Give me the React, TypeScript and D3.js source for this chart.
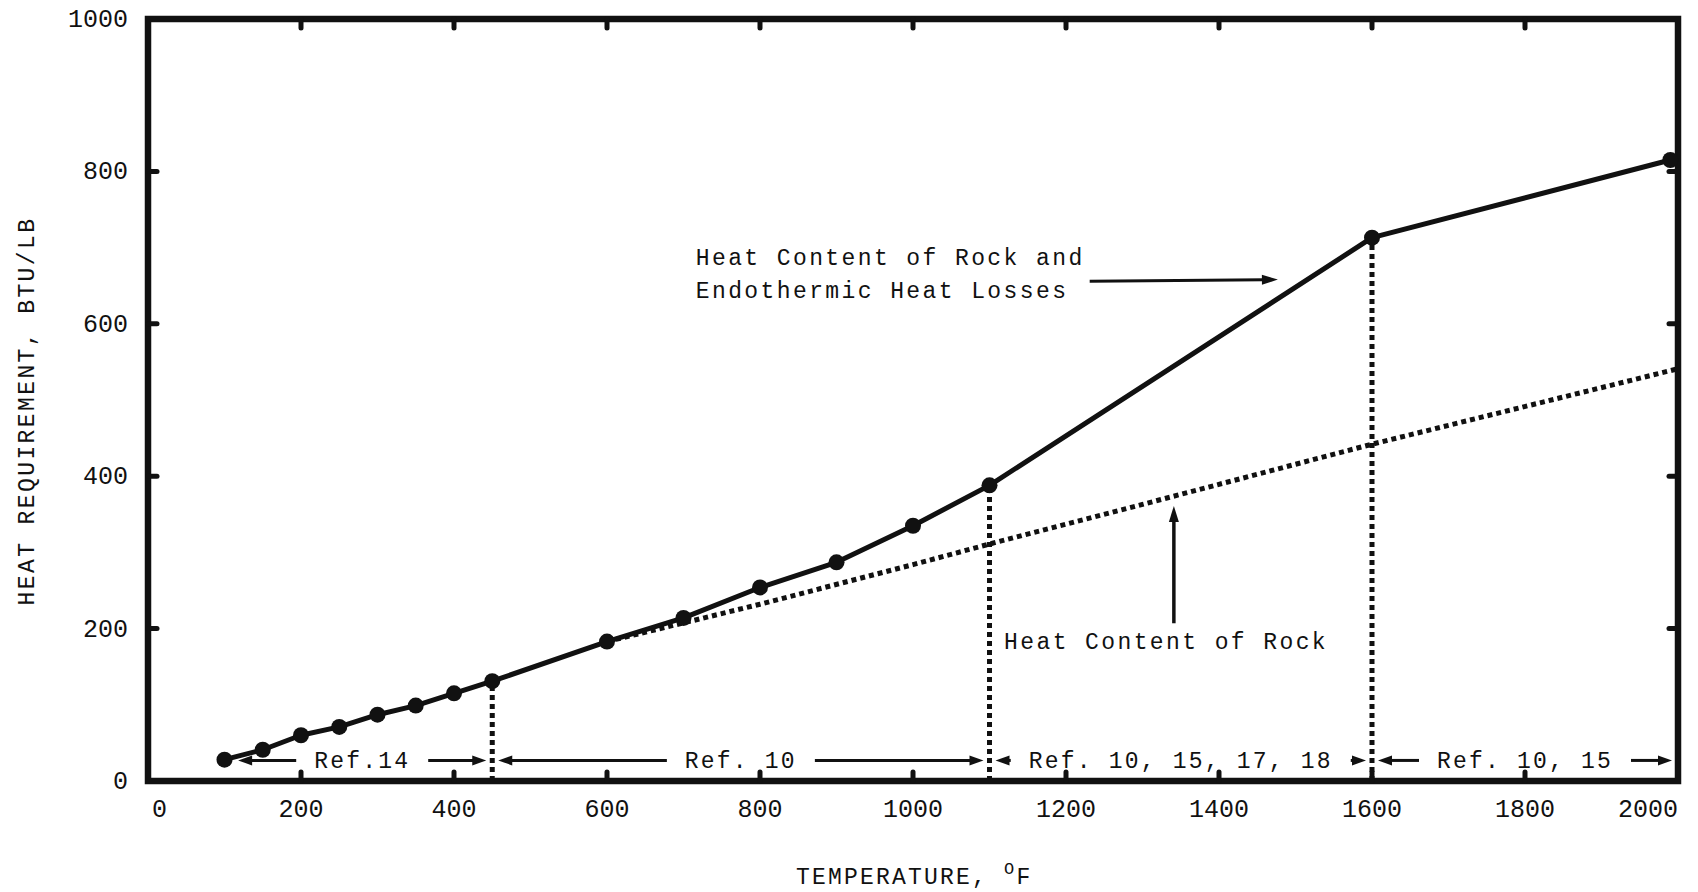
import React from 'react';
import * as d3 from 'd3';

// ---- data ----
const totalTemps = [100, 150, 200, 250, 300, 350, 400, 450, 600, 700, 800, 900, 1000, 1100, 1600, 1990];
const totalHeat = [28, 41, 60, 71, 87, 99, 115, 131, 183, 214, 254, 287, 335, 388, 713, 815];

const rockTemps = [600, 800, 1000, 1100, 1300, 1600, 2000];
const rockHeat = [183, 232, 284, 311, 363, 442, 541];

const boundaryTemps = [450, 1100, 1600];
const boundaryHeat = [131, 388, 713];

const refLabels = ['Ref.14', 'Ref. 10', 'Ref. 10, 15, 17, 18', 'Ref. 10, 15'];
const refStart = [110, 450, 1100, 1600];
const refEnd = [450, 1100, 1600, 2000];

const xTickValues = [0, 200, 400, 600, 800, 1000, 1200, 1400, 1600, 1800, 2000];
const yTickValues = [0, 200, 400, 600, 800, 1000];

const xTitle = 'TEMPERATURE, ';
const yTitle = 'HEAT REQUIREMENT, BTU/LB';
const upperNote = ['Heat Content of Rock and', 'Endothermic Heat Losses'];
const lowerNote = 'Heat Content of Rock';

const FONT = '"Liberation Mono", "DejaVu Sans Mono", "Courier New", monospace';
const INK = '#111';

const W = 1698;
const H = 892;
const x = d3.scaleLinear().domain([0, 2000]).range([148, 1678]);
const y = d3.scaleLinear().domain([0, 1000]).range([781, 19]);

function Arrow({ x1, y1, x2, y2, w = 3, len = 14, half = 5 }: any) {
  const dx = x2 - x1;
  const dy = y2 - y1;
  const L = Math.hypot(dx, dy);
  const ux = dx / L;
  const uy = dy / L;
  const bx = x2 - ux * len;
  const by = y2 - uy * len;
  const px = -uy * half;
  const py = ux * half;
  return (
    <g>
      <line x1={x1} y1={y1} x2={bx + ux * 2} y2={by + uy * 2} stroke={INK} strokeWidth={w} />
      <polygon points={`${x2},${y2} ${bx + px},${by + py} ${bx - px},${by - py}`} fill={INK} />
    </g>
  );
}

export default function App() {
  const totalPts = totalTemps.map((t, i) => [t, totalHeat[i]] as [number, number]);
  const rockPts = rockTemps.map((t, i) => [t, rockHeat[i]] as [number, number]);
  const line = d3.line<[number, number]>().x((d) => x(d[0])).y((d) => y(d[1]));

  const innerX = xTickValues.filter((v) => v > 0 && v < 2000);
  const innerY = yTickValues.filter((v) => v > 0 && v < 1000);
  const tickLen = 9;

  const refAdvance = 16;
  const refTextY = y(17);
  const refArrowY = y(27);
  const refGap = 24;

  return (
    <svg
      width={W}
      height={H}
      style={{ position: 'absolute', left: 0, top: 0, background: '#fff' }}
      fontFamily={FONT}
    >
      <rect x={0} y={0} width={W} height={H} fill="#fff" />

      {/* frame */}
      <rect
        x={x(0)}
        y={y(1000)}
        width={x(2000) - x(0)}
        height={y(0) - y(1000)}
        fill="none"
        stroke={INK}
        strokeWidth={6.5}
      />

      {/* inward ticks */}
      {innerX.map((v) => (
        <g key={'xt' + v}>
          <line x1={x(v)} x2={x(v)} y1={y(0)} y2={y(0) - tickLen} stroke={INK} strokeWidth={5} strokeLinecap="round" />
          <line x1={x(v)} x2={x(v)} y1={y(1000)} y2={y(1000) + tickLen} stroke={INK} strokeWidth={5} strokeLinecap="round" />
        </g>
      ))}
      {innerY.map((v) => (
        <g key={'yt' + v}>
          <line x1={x(0)} x2={x(0) + tickLen} y1={y(v)} y2={y(v)} stroke={INK} strokeWidth={5} strokeLinecap="round" />
          <line x1={x(2000)} x2={x(2000) - tickLen} y1={y(v)} y2={y(v)} stroke={INK} strokeWidth={5} strokeLinecap="round" />
        </g>
      ))}

      {/* tick labels */}
      {xTickValues.map((v) => (
        <text
          key={'xl' + v}
          x={v === 0 ? x(v) + 4 : x(v)}
          y={817}
          fontSize={25}
          fill={INK}
          textAnchor={v === 0 ? 'start' : v === 2000 ? 'end' : 'middle'}
        >
          {v}
        </text>
      ))}
      {yTickValues.map((v) => (
        <text key={'yl' + v} x={x(0) - 20} y={y(v) + 8} fontSize={25} fill={INK} textAnchor="end">
          {v}
        </text>
      ))}

      {/* axis titles */}
      <text x={796} y={884} fontSize={23} letterSpacing={2.2} fill={INK}>
        {xTitle}
        <tspan fontSize={17} dy={-10}>O</tspan>
        <tspan fontSize={23} dy={10}>F</tspan>
      </text>
      <text
        transform={`translate(34, ${411}) rotate(-90)`}
        fontSize={23}
        letterSpacing={2.4}
        fill={INK}
        textAnchor="middle"
      >
        {yTitle}
      </text>

      {/* boundary dotted verticals */}
      {boundaryTemps.map((t, i) => (
        <line
          key={'b' + t}
          x1={x(t)}
          x2={x(t)}
          y1={y(0)}
          y2={y(boundaryHeat[i])}
          stroke={INK}
          strokeWidth={5}
          strokeDasharray="5 4"
        />
      ))}

      {/* rock heat content (dotted) */}
      <path d={line(rockPts) || ''} fill="none" stroke={INK} strokeWidth={5} strokeDasharray="5 4" />

      {/* total heat (solid) */}
      <path d={line(totalPts) || ''} fill="none" stroke={INK} strokeWidth={5} strokeLinejoin="round" />
      {totalPts.map((d) => (
        <circle key={'p' + d[0]} cx={x(d[0])} cy={y(d[1])} r={8} fill={INK} />
      ))}

      {/* reference range labels */}
      {refLabels.map((lab, i) => {
        const a = x(refStart[i]);
        const b = x(refEnd[i]);
        const mid = (a + b) / 2;
        const tw = lab.length * refAdvance;
        const left = mid - tw / 2;
        const right = mid + tw / 2;
        return (
          <g key={'r' + i}>
            <text x={mid} y={refTextY} fontSize={23} letterSpacing={2.2} fill={INK} textAnchor="middle">
              {lab}
            </text>
            <Arrow x1={left - refGap + 6} y1={refArrowY} x2={a + 6} y2={refArrowY} />
            <Arrow x1={right + refGap - 6} y1={refArrowY} x2={b - 6} y2={refArrowY} />
          </g>
        );
      })}

      {/* upper annotation */}
      {upperNote.map((s, i) => (
        <text key={'u' + i} x={x(716)} y={y(677) + i * 33} fontSize={23} letterSpacing={2.4} fill={INK}>
          {s}
        </text>
      ))}
      <Arrow x1={x(1231)} y1={y(656)} x2={x(1477)} y2={y(658)} w={3} len={16} half={5} />

      {/* lower annotation */}
      <text x={x(1119)} y={y(173)} fontSize={23} letterSpacing={2.4} fill={INK}>
        {lowerNote}
      </text>
      <Arrow x1={x(1341)} y1={y(207)} x2={x(1341)} y2={y(361)} w={3.5} len={16} half={5} />
    </svg>
  );
}
